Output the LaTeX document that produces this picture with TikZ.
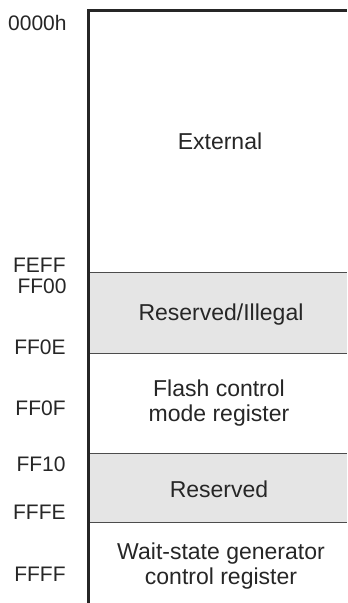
\documentclass[tikz,border=0pt]{standalone}
\usepackage{fontspec}
\setmainfont{Liberation Sans}
\begin{document}
\begin{tikzpicture}[x=0.5pt,y=-0.5pt,
	addr/.style={anchor=east, inner sep=0pt, text=black!85, font=\fontsize{10.5}{12}\selectfont},
	regtext/.style={align=center, inner sep=0pt, text=black!85},
	font=\fontsize{11.5}{12.5}\selectfont]
	\useasboundingbox (0,0) rectangle (347,603);
	% corners of the map
	\coordinate (TL) at (88,11);
	\coordinate (TR) at (347,11);
	\coordinate (BL) at (88,603);
	\coordinate (D1l) at (88,273);	\coordinate (D1r) at (347,273);
	\coordinate (D2l) at (88,353);	\coordinate (D2r) at (347,353);
	\coordinate (D3l) at (88,453);	\coordinate (D3r) at (347,453);
	\coordinate (D4l) at (88,522);	\coordinate (D4r) at (347,522);
	% shaded blocks
	\fill[black!10] (D1l) rectangle (D2r);
	\fill[black!10] (D3l) rectangle (D4r);
	\draw[black!70, line width=0.5pt] (D1l) -- (D1r);
	\draw[black!70, line width=0.5pt] (D2l) -- (D2r);
	\draw[black!70, line width=0.5pt] (D3l) -- (D3r);
	\draw[black!70, line width=0.5pt] (D4l) -- (D4r);
	\draw[black!85, line width=1.5pt] (BL) -- (TL) -- (TR);
	% addresses
	\node (A0000) at (67, 23)	[addr]	{0000h};
	\node (AFEFF) at (66,265)	[addr]	{FEFF};
	\node (AFF00) at (67,286)	[addr]	{FF00};
	\node (AFF0E) at (66,347)	[addr]	{FF0E};
	\node (AFF0F) at (66,408)	[addr]	{FF0F};
	\node (AFF10) at (66,464)	[addr]	{FF10};
	\node (AFFFE) at (66,512)	[addr]	{FFFE};
	\node (AFFFF) at (66,574)	[addr]	{FFFF};
	% regions
	\node (Ext)   at (220,141)	[regtext]	{External};
	\node (Res1)  at (221,315)	[regtext]	{Reserved/Illegal};
	\node (Flash) at (219,403)	[regtext]	{Flash control\\mode register};
	\node (Res2)  at (219,489)	[regtext]	{Reserved};
	\node (Wait)  at (221,566)	[regtext]	{Wait-state generator\\control register};
\end{tikzpicture}
\end{document}
